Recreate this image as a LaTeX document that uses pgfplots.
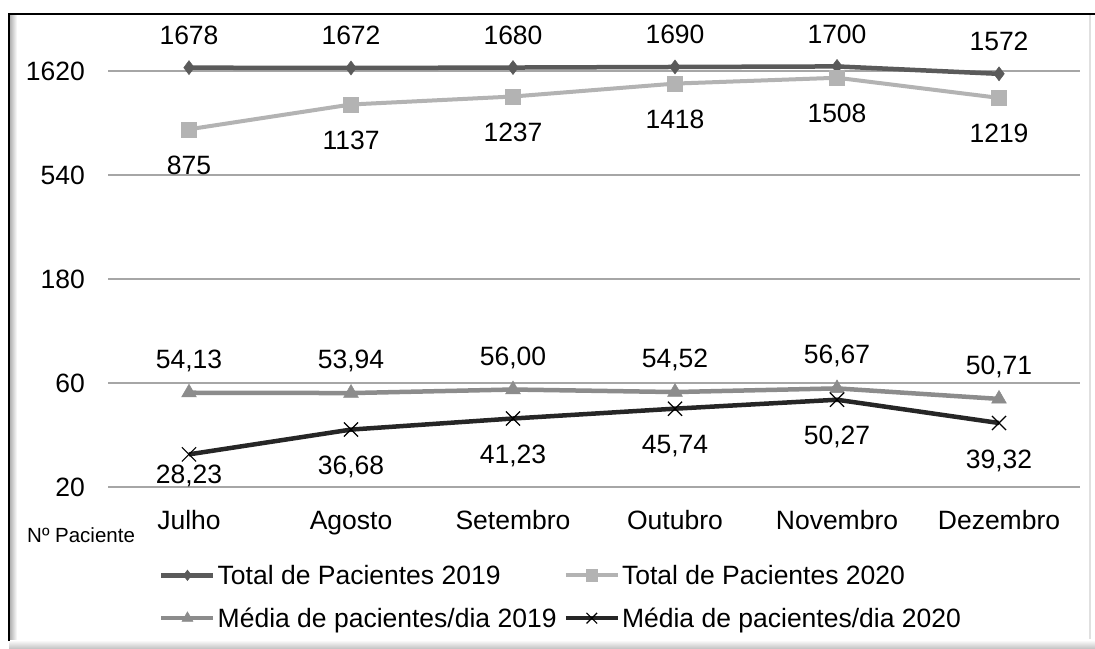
\documentclass[border=0pt]{standalone}
\usepackage{pgfplots}
\pgfplotsset{compat=1.18}
\usepackage{fontspec}
\setmainfont{Liberation Sans}
\definecolor{cA}{HTML}{5A5A5A}
\definecolor{cB}{HTML}{B3B3B3}
\definecolor{cC}{HTML}{8C8C8C}
\definecolor{cD}{HTML}{262626}
\definecolor{gridc}{HTML}{A6A6A6}
\begin{document}
\begin{tikzpicture}
\useasboundingbox (0,0) rectangle (1095pt,648pt);
\fill[white] (0,0) rectangle (1095pt,648pt);
\shade[left color=black!30, right color=white] (10pt,8pt) rectangle (17pt,633pt);
\shade[top color=white, bottom color=black!22] (9pt,0pt) rectangle (1095pt,8pt);
\draw[black!12, line width=1.5pt] (1090pt,9pt) -- (1090pt,633pt);
\draw[black, line width=2.2pt] (9pt,7pt) -- (9pt,634pt) -- (1095pt,634pt);
\node[anchor=base west, font=\fontsize{20.5}{24}\selectfont, inner sep=0pt] at (27pt,105pt) {Nº Paciente};
\begin{axis}[
  at={(108pt,161pt)}, anchor=south west,
  width=972pt, height=473pt, scale only axis,
  ymode=log, ymin=20, ymax=2958,
  xmin=-0.5, xmax=5.5,
  xtick={0,1,2,3,4,5},
  xticklabels={Julho,Agosto,Setembro,Outubro,Novembro,Dezembro},
  ytick={20,60,180,540,1620}, yticklabels={20,60,180,540,1620},
  axis line style={draw=none},
  major tick length=0pt,
  ymajorgrids, grid style={color=gridc, line width=1.5pt},
  tick label style={font=\fontsize{26.5}{30}\selectfont, inner sep=0pt},
  yticklabel style={xshift=-23pt},
  xticklabel style={anchor=base, yshift=-43pt},
  clip=false,
  legend columns=2,
  legend cell align=left,
  legend style={draw=none, fill=none, at={(rel axis cs:0.0494,-0.156)}, anchor=north west,
    font=\fontsize{26.5}{30}\selectfont, /tikz/every even column/.append style={column sep=5pt},
    row sep=18pt, nodes={inner sep=2pt}},
  legend image code/.code={\draw[#1, mark repeat=2, mark phase=2, every mark/.append style={scale=0.75}] plot coordinates {(0pt,0pt) (26pt,0pt) (52pt,0pt)};},
  every node near coord/.append style={font=\fontsize{26.5}{30}\selectfont, anchor=base, inner sep=0pt, text=black},
  point meta=explicit symbolic,
]
\addplot[color=cA, line width=4.5pt, mark=diamond*, mark size=7pt, mark options={solid, line width=0.5pt},
  nodes near coords, every node near coord/.append style={yshift=23pt}]
  coordinates {(0,1678)[1678] (1,1672)[1672] (2,1680)[1680] (3,1690)[1690] (4,1700)[1700] (5,1572)[1572]};
\addlegendentry{Total de Pacientes 2019}
\addplot[color=cB, line width=4pt, mark=square*, mark size=7.5pt, mark options={solid, line width=0.5pt},
  nodes near coords, every node near coord/.append style={yshift=-45pt}]
  coordinates {(0,875)[875] (1,1137)[1137] (2,1237)[1237] (3,1418)[1418] (4,1508)[1508] (5,1219)[1219]};
\addlegendentry{Total de Pacientes 2020}
\addplot[color=cC, line width=4.5pt, mark=triangle*, mark size=8.5pt, mark options={solid, line width=0.5pt},
  nodes near coords, every node near coord/.append style={yshift=24.5pt}]
  coordinates {(0,54.13)[54,13] (1,53.94)[53,94] (2,56.00)[56,00] (3,54.52)[54,52] (4,56.67)[56,67] (5,50.71)[50,71]};
\addlegendentry{Média de pacientes/dia 2019}
\addplot[color=cD, line width=4.5pt, mark=x, mark size=10pt, mark options={solid, line width=1.2pt, draw=black}]
  coordinates {(0,28.23) (1,36.68) (2,41.23) (3,45.74) (4,50.27) (5,39.32)};
\addlegendentry{Média de pacientes/dia 2020}
\addplot[draw=none, forget plot, nodes near coords, every node near coord/.append style={yshift=-45pt}]
  coordinates {(1,36.68)[36,68] (2,41.23)[41,23] (3,45.74)[45,74] (4,50.27)[50,27] (5,39.32)[39,32]};
\addplot[draw=none, forget plot, nodes near coords, every node near coord/.append style={yshift=-29pt}]
  coordinates {(0,28.23)[28,23]};
\end{axis}
\end{tikzpicture}
\end{document}
